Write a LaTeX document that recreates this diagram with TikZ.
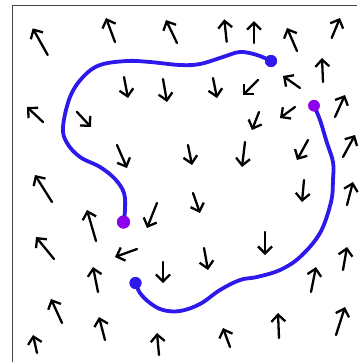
\documentclass[tikz,border=0pt]{standalone}
\usetikzlibrary{arrows.meta}
\definecolor{curveblue}{RGB}{45,25,235}
\definecolor{dotpurple}{RGB}{140,0,235}
\definecolor{framegray}{RGB}{70,70,70}
\tikzset{
  vec/.style={line width=2.3pt, line cap=round, line join=round,
    -{Straight Barb[length=7pt,width=14pt,line width=2.3pt]}},
  pathcurve/.style={line width=3.8pt, color=curveblue, line cap=round},
  bluedot/.style={circle, fill=curveblue, inner sep=0pt, minimum size=12pt},
  purpledot/.style={circle, fill=dotpurple, inner sep=0pt, minimum size=13pt},
  frameline/.style={line width=1.2pt, color=framegray}
}
\begin{document}
\begin{tikzpicture}[x=1pt,y=-1pt]
\useasboundingbox (0,0) rectangle (360,362);
\fill[white] (0,0) rectangle (360,362);
% frame
\coordinate (fbl) at (12.7,362);
\coordinate (ftl) at (12.7,5.7);
\coordinate (ftr) at (357,5.7);
\draw[frameline] (fbl) -- (ftl) -- (ftr);
% vector field
\foreach \ax/\ay/\bx/\by in {
 47.7/55/32.7/28.3, 115/42/106/18, 177/43/166/20, 226.7/41.7/224.3/19.3,
 254/43/254/21, 297/51/287/28, 331.7/38/340/18, 323/82/322/58,
 300/88/283/76, 124/77/128/98, 163/79/167/102, 213/78/217/98,
 258/80/243/95, 43/122/27/107, 77/112/91/127, 335/117/345/95,
 295/107/280/118, 259/112/252/130, 117/145/127/168, 188/145/192/165,
 245/142/242/167, 308/140/297/160, 343/157/355/135, 52/202/35/175,
 157/203/147/228, 193/193/200/213, 304/180/302/202, 347/205/353/182,
 96/241/87/210, 54/259/36/237, 137/249/115/257, 265/232/265/255,
 163/262/163/283, 204/248/208/270, 98/292/93/267, 343/270/347/247,
 311/292/316/267, 62/323/51/299, 105/340/99/317, 37/353/33/335,
 159/355/157/333, 230/347/223/328, 279/338/278/313, 336/335/345/307}
 {\draw[vec] (\ax,\ay) -- (\bx,\by);}
% curves
\node[bluedot] (b1) at (271,61) {};
\node[purpledot] (p1) at (123.5,222) {};
\node[purpledot,minimum size=11.5pt] (p2) at (314,105.7) {};
\node[bluedot] (b2) at (135.5,283) {};
\draw[pathcurve] plot[smooth,tension=0.6] coordinates {(b1.center) (257,55) (240,52) (223,57) (200,64) (180,65) (150,62) (127,61) (100,65) (83,77) (70,97) (63,127) (67,143) (80,157) (100,167) (115,179) (124,193) (125,210) (p1.center)};
\draw[pathcurve] plot[smooth,tension=0.6] coordinates {(p2.center) (320,120) (327,143) (333,162) (333,180) (331,202) (320,233) (300,257) (280,270) (257,277) (240,280) (220,290) (200,304) (180,311) (163,310) (150,303) (140,293) (b2.center)};
\node[bluedot] at (b1) {};
\node[purpledot] at (p1) {};
\node[purpledot,minimum size=11.5pt] at (p2) {};
\node[bluedot] at (b2) {};
\end{tikzpicture}
\end{document}
